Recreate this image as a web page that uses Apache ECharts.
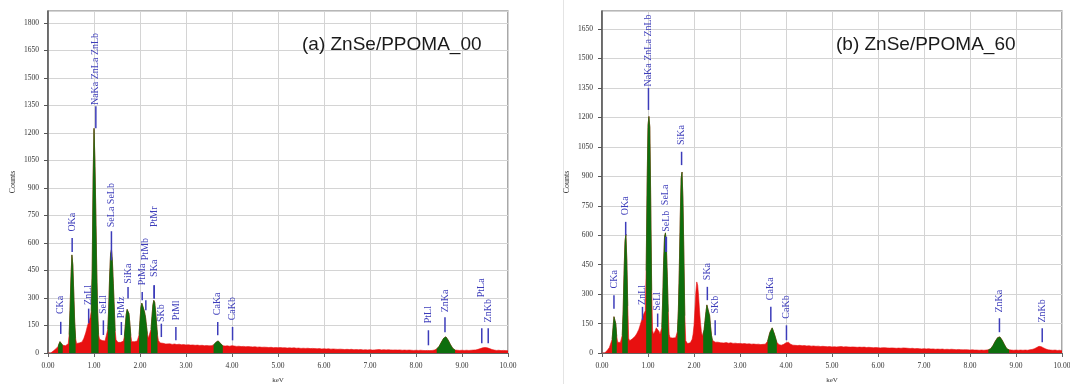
<!DOCTYPE html>
<html><head><meta charset="utf-8">
<script src="https://cdn.jsdelivr.net/npm/echarts/dist/echarts.min.js"></script>
<style>html,body{margin:0;padding:0;background:#fff}#c{width:1070px;height:384px}</style>
</head><body><div id="c"></div>
<script>
// ---------------- DATA ----------------
const energy = [
0,0.02,0.04,0.06,0.08,0.1,0.12,0.14,0.16,0.18,
0.2,0.22,0.24,0.26,0.28,0.3,0.32,0.34,0.36,0.38,
0.4,0.42,0.44,0.46,0.48,0.5,0.52,0.54,0.56,0.58,
0.6,0.62,0.64,0.66,0.68,0.7,0.72,0.74,0.76,0.78,
0.8,0.82,0.84,0.86,0.88,0.9,0.92,0.94,0.96,0.98,
1,1.02,1.04,1.06,1.08,1.1,1.12,1.14,1.16,1.18,
1.2,1.22,1.24,1.26,1.28,1.3,1.32,1.34,1.36,1.38,
1.4,1.42,1.44,1.46,1.48,1.5,1.52,1.54,1.56,1.58,
1.6,1.62,1.64,1.66,1.68,1.7,1.72,1.74,1.76,1.78,
1.8,1.82,1.84,1.86,1.88,1.9,1.92,1.94,1.96,1.98,
2,2.02,2.04,2.06,2.08,2.1,2.12,2.14,2.16,2.18,
2.2,2.22,2.24,2.26,2.28,2.3,2.32,2.34,2.36,2.38,
2.4,2.42,2.44,2.46,2.48,2.5,2.52,2.54,2.56,2.58,
2.6,
2.65,2.7,2.75,2.8,2.85,2.9,2.95,3,3.05,3.1,
3.15,3.2,3.25,3.3,3.35,3.4,3.45,3.5,3.55,3.6,
3.65,3.7,3.75,3.8,3.85,3.9,3.95,4,4.05,4.1,
4.15,4.2,4.25,4.3,4.35,4.4,4.45,4.5,4.55,4.6,
4.65,4.7,4.75,4.8,4.85,4.9,4.95,5,5.05,5.1,
5.15,5.2,5.25,5.3,5.35,5.4,5.45,5.5,5.55,5.6,
5.65,5.7,5.75,5.8,5.85,5.9,5.95,6,6.05,6.1,
6.15,6.2,6.25,6.3,6.35,6.4,6.45,6.5,6.55,6.6,
6.65,6.7,6.75,6.8,6.85,6.9,6.95,7,7.05,7.1,
7.15,7.2,7.25,7.3,7.35,7.4,7.45,7.5,7.55,7.6,
7.65,7.7,7.75,7.8,7.85,7.9,7.95,8,8.05,8.1,
8.15,8.2,8.25,8.3,8.35,8.4,8.45,8.5,8.55,8.6,
8.65,8.7,8.75,8.8,8.85,8.9,8.95,9,9.05,9.1,
9.15,9.2,9.25,9.3,9.35,9.4,9.45,9.5,9.55,9.6,
9.65,9.7,9.75,9.8,9.85,9.9,9.95,10
];

// (a) ZnSe/PPOMA_00 counts
const countsA = [
0,0,0,0,0,4,12,18,22,25,
28,36,50,62,68,58,42,35,38,40,
42,45,50,100,250,420,535,480,330,170,
80,52,50,52,55,56,58,60,65,80,
95,110,130,150,165,180,195,230,450,950,
1225,1050,760,450,220,100,75,70,72,68,
70,72,66,62,65,130,250,420,540,565,
500,380,250,120,72,62,58,60,55,58,
62,60,65,90,150,210,238,242,215,160,
95,62,55,60,62,58,62,65,70,100,
180,250,272,262,240,222,195,150,105,80,
75,85,130,200,262,287,275,225,160,100,
68,58,55,54,52,53,50,52,49,51,
48,
50,47,49,46,48,45,46,44,45,43,
44,42,43,41,42,40,41,39,40,44,
58,66,52,40,38,39,37,40,38,36,
37,35,36,34,35,34,33,34,32,33,
31,32,31,30,31,29,30,29,30,28,
29,27,28,27,28,26,27,25,26,25,
26,24,25,24,23,24,22,23,22,23,
21,22,21,20,21,20,19,20,19,20,
18,19,18,19,17,18,17,18,16,17,
18,19,17,18,17,18,17,16,17,16,
17,15,16,15,16,15,14,15,14,15,
14,13,14,13,14,16,22,36,58,80,
88,70,45,25,16,15,14,15,14,15,
14,15,16,17,20,24,28,30,28,24,
19,16,14,15,13,14,13,12
];

// (b) ZnSe/PPOMA_60 counts
const countsB = [
0,0,0,0,0,6,15,22,28,32,
36,70,130,185,192,150,85,55,55,58,
54,60,90,220,420,570,605,470,240,75,
62,65,68,72,75,80,85,92,100,110,
120,135,150,165,180,195,205,215,420,850,
1160,1205,1150,760,320,115,95,100,115,128,
133,125,110,95,85,130,280,470,595,612,
540,390,210,95,78,75,72,76,70,74,
78,80,110,220,420,680,890,922,780,500,
190,62,52,48,50,46,52,58,70,95,
140,220,310,362,345,290,215,155,110,85,
95,120,165,210,245,252,235,190,135,90,
65,58,56,55,57,54,55,53,54,52,
53,
51,53,50,52,49,50,48,49,47,48,
46,47,45,46,44,45,43,44,45,60,
105,128,95,55,42,40,44,52,55,45,
40,39,38,39,37,38,36,37,35,36,
34,35,33,34,33,32,33,31,32,31,
32,33,31,32,31,30,31,30,29,30,
29,30,28,29,28,27,28,27,26,27,
27,26,25,26,25,24,25,24,26,25,
24,23,24,22,23,22,21,22,21,22,
20,21,19,20,19,20,18,19,18,19,
18,17,18,17,16,17,16,15,16,15,
15,14,15,14,15,16,22,38,60,78,
82,65,42,22,16,15,14,15,14,15,
14,15,14,16,18,22,28,34,32,26,
20,16,15,14,15,13,14,12
];

// identified-peak windows (keV) drawn in green
const roiA = [[0.22,0.32],[0.46,0.60],[0.94,1.10],[1.30,1.46],[1.66,1.80],[1.98,2.16],[2.24,2.38],[3.60,3.80],[8.45,8.85]];
const roiB = [[0.22,0.32],[0.44,0.56],[0.96,1.08],[1.30,1.44],[1.64,1.80],[2.20,2.40],[3.60,3.80],[8.40,8.85]];

// peak markers: [label, keV, marker from (counts), marker to (counts), label starts at (counts)]
const peaksA = [
['CKa',0.277,104,170,212],
['OKa',0.525,551,627,662],
['ZnLl',0.884,162,242,262],
['NaKa ZnLa ZnLb',1.04,1225,1345,1352],
['SeLl',1.204,98,178,212],
['SeLa SeLb',1.379,505,664,686],
['PtMz',1.595,98,169,190],
['SiKa',1.74,297,360,378],
['PtMa',2.048,287,333,369],
['PtMb',2.127,233,287,506],
['PtMr',2.31,297,369,687],
['SKa',2.307,297,369,415],
['SKb',2.464,87,160,169],
['PtMl',2.78,69,142,178],
['CaKa',3.69,97,169,206],
['CaKb',4.012,69,142,178],
['PtLl',8.27,42,124,162],
['ZnKa',8.63,113,195,222],
['PtLa',9.43,53,135,304],
['ZnKb',9.57,53,135,167]
];
const peaksB = [
['CKa',0.26,226,294,329],
['OKa',0.515,600,668,702],
['ZnLl',0.88,167,235,245],
['NaKa ZnLa ZnLb',1.01,1238,1350,1357],
['SeLl',1.21,133,201,215],
['SeLa',1.385,515,592,753],
['SeLb',1.40,515,592,617],
['SiKa',1.73,957,1025,1059],
['SKa',2.29,269,337,371],
['SKb',2.46,90,167,201],
['CaKa',3.67,158,235,269],
['CaKb',4.01,65,141,175],
['ZnKa',8.64,106,177,206],
['ZnKb',9.57,55,126,155]
];

const xTicks = {min:0, max:10, step:1};
const yStep = 150;
const titles = ['(a) ZnSe/PPOMA_00','(b) ZnSe/PPOMA_60'];

// ---------------- STYLE ----------------
const SERIF = '"Liberation Serif","DejaVu Serif",serif';
const RED = '#e81010', GREEN = '#0d6e0d', BLUE = '#3c3cba';

function inRoi(e, rois){ return rois.some(r => e >= r[0]-1e-6 && e <= r[1]+1e-6); }

function xAx(g){
  return {type:'value', gridIndex:g, min:xTicks.min, max:xTicks.max, interval:xTicks.step,
    name:'keV', nameLocation:'middle', nameGap:24,
    nameTextStyle:{fontFamily:SERIF,fontSize:7,color:'#333'},
    axisLine:{show:true,onZero:false,lineStyle:{color:'#666',width:1}},
    axisTick:{show:true,length:4,lineStyle:{color:'#666'}},
    axisLabel:{fontFamily:SERIF,fontSize:7.5,color:'#333',margin:9,formatter:v=>v.toFixed(2)},
    splitLine:{show:true,lineStyle:{color:'#d4d4d4',width:1}}};
}
function yAx(g,max){
  return {type:'value', gridIndex:g, min:0, max:max, interval:yStep,
    name:'Counts', nameLocation:'middle', nameGap:31, nameRotate:90,
    nameTextStyle:{fontFamily:SERIF,fontSize:8,color:'#333'},
    axisLine:{show:true,onZero:false,lineStyle:{color:'#555',width:1.5}},
    axisTick:{show:true,length:4,lineStyle:{color:'#555'}},
    axisLabel:{fontFamily:SERIF,fontSize:7.5,color:'#333',margin:9,showMaxLabel:false,formatter:v=>String(v)},
    splitLine:{show:true,lineStyle:{color:'#d4d4d4',width:1}}};
}
function areaSeries(g, counts, rois, color, z){
  const data = energy.map((e,i)=> (rois===null || inRoi(e,rois)) ? [e, counts[i]] : [e,'-']);
  return {type:'line', xAxisIndex:g, yAxisIndex:g, data:data, symbol:'none', silent:true,
    connectNulls:false, z:z, animation:false,
    lineStyle:{color:color,width:0.6}, areaStyle:{color:color,opacity:1}};
}
function markerSeries(g, peaks){
  return {type:'custom', xAxisIndex:g, yAxisIndex:g, silent:true, z:5, animation:false,
    data: peaks.map(p=>[p[1],p[2],p[3],p[4]]),
    renderItem:(params, api)=>{
      const x = api.value(0);
      const lo = api.coord([x, api.value(1)]);
      const hi = api.coord([x, api.value(2)]);
      const lb = api.coord([x, api.value(3)]);
      const name = peaks[params.dataIndex][0];
      return {type:'group', children:[
        {type:'line', shape:{x1:lo[0],y1:lo[1],x2:hi[0],y2:hi[1]}, style:{stroke:BLUE,lineWidth:1.5}},
        {type:'text', x:lb[0], y:lb[1], rotation:Math.PI/2,
         style:{text:name, fill:BLUE, font:'10px '+SERIF, align:'left', verticalAlign:'middle'}}
      ]};
    }};
}

const chart = echarts.init(document.getElementById('c'), null, {renderer:'canvas'});
chart.setOption({
  backgroundColor:'#fff',
  animation:false,
  title:[
    {text:titles[0], left:302, top:35, padding:0, textStyle:{fontFamily:'"Liberation Sans",Arial,sans-serif',fontSize:19,fontWeight:'normal',color:'#1a1a1a'}},
    {text:titles[1], left:836, top:35, padding:0, textStyle:{fontFamily:'"Liberation Sans",Arial,sans-serif',fontSize:19,fontWeight:'normal',color:'#1a1a1a'}}
  ],
  graphic:[{type:'line', shape:{x1:563.5,y1:0,x2:563.5,y2:384}, style:{stroke:'#e4e4e4',lineWidth:1}, silent:true}],
  grid:[
    {left:48, top:11, width:460, height:342, show:true, borderColor:'#707070', borderWidth:1.2, backgroundColor:'transparent', containLabel:false, outerBoundsMode:'none'},
    {left:602, top:11, width:460, height:342, show:true, borderColor:'#707070', borderWidth:1.2, backgroundColor:'transparent', containLabel:false, outerBoundsMode:'none'}
  ],
  xAxis:[xAx(0), xAx(1)],
  yAxis:[yAx(0,1865), yAx(1,1742)],
  series:[
    areaSeries(0, countsA, null, RED, 2),
    areaSeries(0, countsA, roiA, GREEN, 3),
    markerSeries(0, peaksA),
    areaSeries(1, countsB, null, RED, 2),
    areaSeries(1, countsB, roiB, GREEN, 3),
    markerSeries(1, peaksB)
  ]
});
</script></body></html>
